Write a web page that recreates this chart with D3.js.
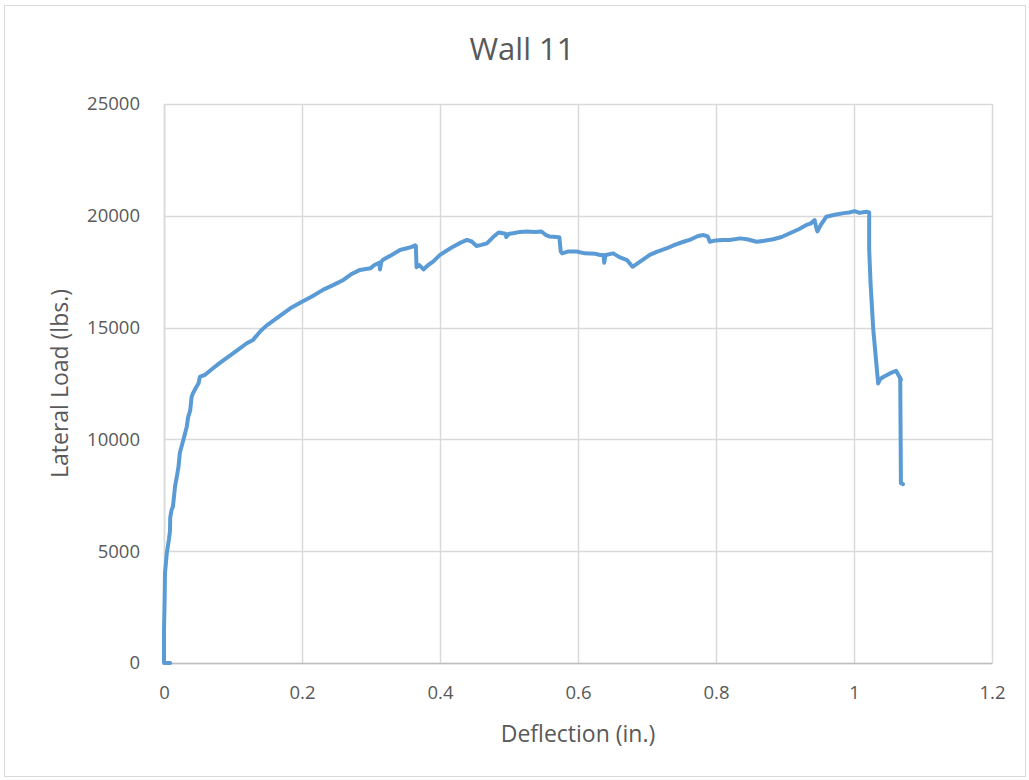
<!DOCTYPE html>
<html><head><meta charset="utf-8">
<script src="https://cdn.jsdelivr.net/npm/d3@7"></script>
<style>body{margin:0;background:#fff}svg{display:block}text{font-family:"Open Sans",sans-serif;fill:#595959}</style>
</head><body>
<script>
const title = "Wall 11";
const xTitle = "Deflection (in.)";
const yTitle = "Lateral Load (lbs.)";
const xTicks = [0, 0.2, 0.4, 0.6, 0.8, 1, 1.2];
const yTicks = [0, 5000, 10000, 15000, 20000, 25000];
const deflection = [0.009,0,0,0.001,0.0014,0.004,0.007,0.0087,0.009,0.011,0.013,0.016,0.019,0.021,0.023,0.028,0.033,0.035,0.038,0.040,0.042,0.046,0.050,0.052,0.060,0.071,0.080,0.091,0.100,0.110,0.120,0.129,0.140,0.149,0.160,0.173,0.185,0.200,0.215,0.231,0.245,0.260,0.272,0.284,0.299,0.305,0.312,0.313,0.315,0.318,0.330,0.342,0.352,0.358,0.364,0.365,0.366,0.370,0.376,0.383,0.390,0.400,0.410,0.419,0.430,0.439,0.446,0.453,0.460,0.468,0.477,0.485,0.495,0.496,0.500,0.506,0.516,0.526,0.537,0.547,0.553,0.559,0.573,0.575,0.577,0.585,0.598,0.610,0.625,0.632,0.637,0.638,0.640,0.651,0.660,0.671,0.679,0.690,0.704,0.715,0.729,0.740,0.753,0.764,0.774,0.782,0.788,0.791,0.800,0.810,0.820,0.835,0.845,0.859,0.870,0.883,0.895,0.907,0.920,0.931,0.937,0.943,0.945,0.947,0.952,0.960,0.972,0.985,0.993,1.001,1.008,1.011,1.018,1.022,1.022,1.024,1.028,1.035,1.038,1.043,1.052,1.061,1.065,1.068,1.067,1.068,1.071];
const load = [0,0,1500,3000,4000,4900,5500,5900,6500,6850,7000,7900,8400,8780,9400,9970,10570,11000,11300,11900,12060,12300,12500,12800,12900,13180,13400,13650,13850,14070,14300,14450,14850,15100,15350,15640,15900,16160,16400,16700,16900,17130,17400,17580,17650,17800,17900,17600,17950,18050,18250,18470,18550,18600,18680,18650,17700,17800,17600,17800,17950,18250,18450,18620,18800,18920,18850,18650,18700,18770,19050,19250,19200,19050,19200,19220,19280,19300,19280,19300,19150,19070,19040,18400,18320,18400,18400,18320,18300,18250,18250,17900,18250,18320,18150,18020,17720,17950,18250,18400,18550,18700,18840,18950,19100,19140,19080,18840,18900,18920,18920,18990,18950,18840,18880,18950,19050,19220,19400,19590,19650,19810,19500,19300,19600,19960,20050,20120,20150,20210,20130,20150,20180,20150,18500,16980,14890,12500,12700,12800,12950,13070,12850,12660,12750,8040,8000];

const W = 1029, H = 780;
const svg = d3.select("body").append("svg").attr("width", W).attr("height", H);
svg.append("rect").attr("x", 4.5).attr("y", 5.5).attr("width", 1021).attr("height", 771)
  .attr("fill", "#fff").attr("stroke", "#d9d9d9").attr("stroke-width", 1);

const x = d3.scaleLinear().domain([0, 1.2]).range([164, 992]);
const y = d3.scaleLinear().domain([0, 25000]).range([663, 104]);

// gridlines
svg.append("g").selectAll("line.h").data(yTicks).join("line")
  .attr("x1", x(0)).attr("x2", x(1.2))
  .attr("y1", d => Math.round(y(d)) + 0.5).attr("y2", d => Math.round(y(d)) + 0.5)
  .attr("stroke", "#d9d9d9").attr("stroke-width", 1.5);
svg.append("g").selectAll("line.v").data(xTicks).join("line")
  .attr("y1", y(0)).attr("y2", y(25000))
  .attr("x1", d => Math.round(x(d)) + 0.5).attr("x2", d => Math.round(x(d)) + 0.5)
  .attr("stroke", "#d9d9d9").attr("stroke-width", 1.5);

// axes
const xAxis = d3.axisBottom(x).tickValues(xTicks).tickSize(0).tickPadding(23).tickFormat(d => String(d));
const gx = svg.append("g").attr("transform", `translate(0,${y(0)})`).call(xAxis);
gx.select(".domain").attr("stroke", "#bfbfbf").attr("stroke-width", 1.5);
gx.selectAll("text").style("font-size", "18.5px").attr("fill", "#595959");

const yAxis = d3.axisLeft(y).tickValues(yTicks).tickSize(0).tickPadding(24).tickFormat(d => String(d));
const gy = svg.append("g").attr("transform", `translate(${x(0)},0)`).call(yAxis);
gy.select(".domain").attr("stroke", "#d9d9d9").attr("stroke-width", 1.5);
gy.selectAll("text").style("font-size", "18.5px").attr("fill", "#595959");

// line
const pts = deflection.map((d, i) => [d, load[i]]);
svg.append("path").datum(pts)
  .attr("fill", "none").attr("stroke", "#5b9bd5").attr("stroke-width", 4)
  .attr("stroke-linejoin", "round").attr("stroke-linecap", "round")
  .attr("d", d3.line().x(d => x(d[0])).y(d => y(d[1])));

// titles
svg.append("text").attr("x", 522).attr("y", 60).attr("text-anchor", "middle")
  .style("font-size", "31px").text(title);
svg.append("text").attr("x", 578).attr("y", 742).attr("text-anchor", "middle")
  .style("font-size", "23px").text(xTitle);
svg.append("text").attr("transform", `translate(68,${(104+663)/2}) rotate(-90)`).attr("text-anchor", "middle")
  .style("font-size", "23px").text(yTitle);
</script>
</body></html>
